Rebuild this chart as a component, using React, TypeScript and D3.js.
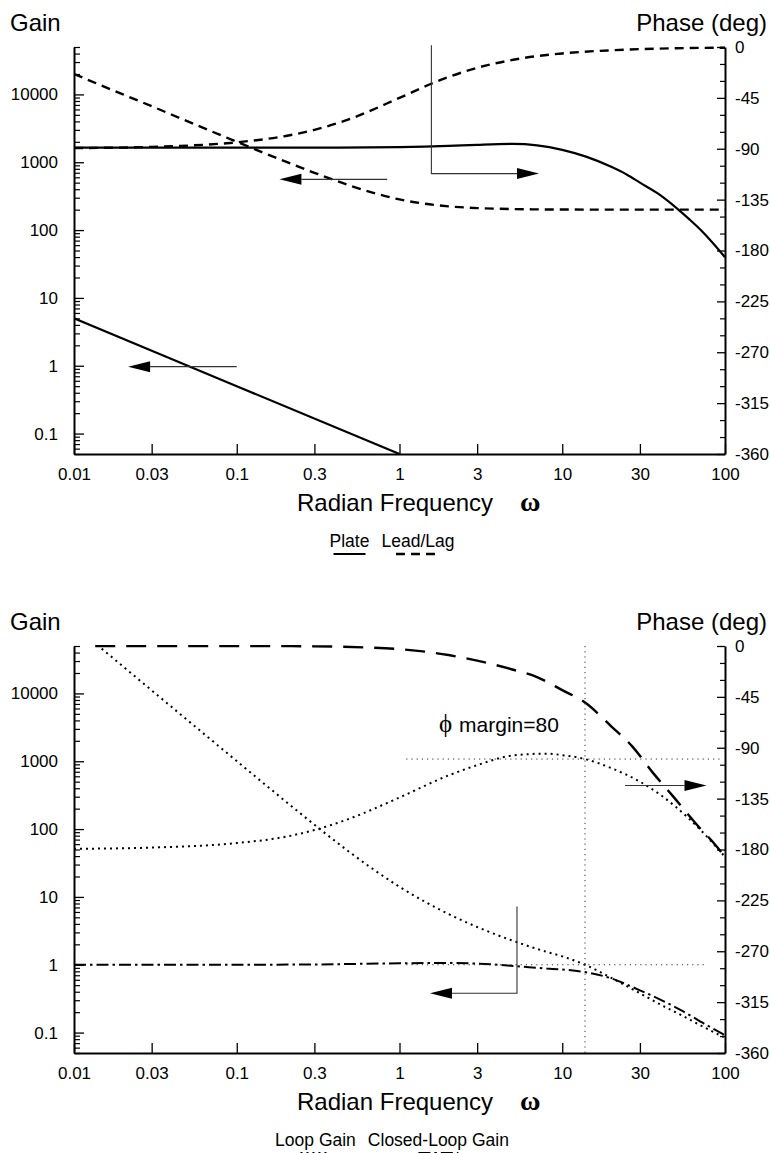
import React, { useEffect, useRef } from 'react'
import * as d3 from 'd3'

type Pt = [number, number]

const freqTicks = [0.01, 0.03, 0.1, 0.3, 1, 3, 10, 30, 100]
const gainTicks = [0.1, 1, 10, 100, 1000, 10000]
const phaseTicks = [0, -45, -90, -135, -180, -225, -270, -315, -360]

// upper plot: plate and lead/lag compensator
const plateGain: Pt[] = [[0.01, 5], [0.1, 0.5], [1, 0.05]]
const platePhase: Pt[] = [[0.01, -89], [0.1, -89], [0.3, -89], [1, -88.5], [2, -87.5], [3, -86.5], [5, -85.7], [7, -87], [10, -91], [14, -97], [20, -106], [25, -113], [30, -120], [40, -131], [50, -142], [60, -152], [70, -161], [85, -174], [100, -186]]
const leadLagGain: Pt[] = [[0.01, 20000], [0.02, 10000], [0.03, 6700], [0.05, 4000], [0.1, 2000], [0.2, 1020], [0.3, 700], [0.5, 450], [1, 283], [2, 224], [3, 211], [5, 204], [10, 201], [30, 200], [100, 200]]
const leadLagPhase: Pt[] = [[0.01, -89.4], [0.03, -88.3], [0.1, -84.3], [0.2, -78.7], [0.3, -73.3], [0.5, -63.4], [1, -45], [1.6, -32], [2, -26.6], [3, -18.4], [5, -11.3], [10, -5.7], [20, -2.9], [50, -1.1], [100, -0.6]]

// lower plot: loop and closed loop
const loopGain: Pt[] = [[0.01, 100000], [0.02, 25000], [0.03, 11100], [0.05, 4000], [0.1, 1005], [0.2, 255], [0.3, 116], [0.5, 44.7], [1, 14.1], [2, 5.6], [3, 3.6], [5, 2.25], [8, 1.55], [10, 1.33], [13.8, 1], [20, 0.64], [30, 0.38], [40, 0.26], [55, 0.176], [77, 0.115], [100, 0.084]]
const loopPhase: Pt[] = [[0.01, -179.4], [0.03, -178.3], [0.1, -174.3], [0.2, -168.7], [0.3, -162.8], [0.5, -152.4], [1, -134], [2, -114.5], [3, -105.4], [5, -96.8], [8, -95.2], [10, -96.5], [13.8, -100], [20, -108], [30, -120], [40, -131.5], [50, -142.5], [70, -162], [100, -186.5]]
const closedGain: Pt[] = [[0.01, 1], [0.1, 1.001], [0.3, 1.01], [1, 1.05], [2, 1.06], [3, 1.04], [5, 0.96], [8, 0.88], [10, 0.85], [13.8, 0.78], [20, 0.63], [30, 0.42], [38.6, 0.32], [55, 0.207], [77, 0.129], [100, 0.092]]
const closedPhase: Pt[] = [[0.0135, 0], [0.1, 0], [0.3, -0.3], [0.6, -1.2], [1, -2.8], [2, -8], [3, -13], [5, -21], [7, -27.5], [10, -39], [13.8, -50], [20, -71], [27, -89], [36, -112], [48, -133], [70, -161], [85, -174], [100, -186.5]]

// annotation arrows (last point is the tip)
const topArrows = [
    { axis: 'phase', path: [[1.57, 1.5], [1.57, -112], [7.2, -112]] as Pt[] },
    { axis: 'gain', path: [[0.84, 560], [0.183, 560]] as Pt[] },
    { axis: 'gain', path: [[0.1, 0.97], [0.0215, 0.97]] as Pt[] },
]
const bottomArrows = [
    { axis: 'phase', path: [[24.3, -123.4], [77, -123.4]] as Pt[] },
    { axis: 'gain', path: [[5.27, 7.2], [5.27, 0.38], [1.54, 0.38]] as Pt[] },
]
const marginLines = [
    { axis: 'phase', path: [[1.1, -100], [97, -100]] as Pt[] },
    { axis: 'gain', path: [[1.1, 1], [78, 1]] as Pt[] },
    { axis: 'gain', path: [[13.8, 50000], [13.8, 0.05]] as Pt[] },
]

const sans = '"Liberation Sans", Arial, Helvetica, sans-serif'
const serif = '"Liberation Serif", "DejaVu Serif", serif'

const plotLeft = 74
const plotRight = 725
const plotHeight = 407

const styles: any = {
    solid: { dash: null, width: 2.2 },
    dashed: { dash: '9,6', width: 2.4 },
    dotted: { dash: '2,4', width: 2 },
    longDash: { dash: '20,11', width: 2.4 },
    dashDot: { dash: '12,4,2.5,4', width: 2 },
}

function drawPanel(svg: any, cfg: any) {
    const g = svg.append('g').attr('transform', 'translate(0,' + cfg.top + ')')
    const x = d3.scaleLog().domain([0.01, 100]).range([plotLeft, plotRight])
    const yGain = d3.scaleLog().domain([0.05, 50000]).range([plotHeight, 0])
    const yPhase = d3.scaleLinear().domain([-360, 0]).range([plotHeight, 0])
    const yOf = (axis: string) => (axis === 'gain' ? yGain : yPhase)

    const clipId = 'clip-' + cfg.id
    g.append('clipPath').attr('id', clipId)
        .append('rect')
        .attr('x', plotLeft).attr('y', -1)
        .attr('width', plotRight - plotLeft).attr('height', plotHeight + 2)

    // curves
    cfg.series.forEach((s: any) => {
        const y = yOf(s.axis)
        const line = d3.line<Pt>()
            .x(d => x(d[0]))
            .y(d => y(d[1]))
            .curve(d3.curveMonotoneX)
        const st = styles[s.style]
        g.append('path')
            .attr('clip-path', 'url(#' + clipId + ')')
            .attr('d', line(s.data))
            .attr('fill', 'none')
            .attr('stroke', '#000')
            .attr('stroke-width', st.width)
            .attr('stroke-dasharray', st.dash)
    })

    // thin dotted reference lines
    ;(cfg.refs || []).forEach((r: any) => {
        const y = yOf(r.axis)
        g.append('path')
            .attr('d', d3.line<Pt>().x(d => x(d[0])).y(d => y(d[1]))(r.path))
            .attr('fill', 'none')
            .attr('stroke', '#333')
            .attr('stroke-width', 1)
            .attr('stroke-dasharray', '1.2,4')
    })

    // arrows
    cfg.arrows.forEach((a: any) => {
        const y = yOf(a.axis)
        const pts = a.path.map((d: Pt) => [x(d[0]), y(d[1])])
        const tip = pts[pts.length - 1]
        const prev = pts[pts.length - 2]
        const len = Math.hypot(tip[0] - prev[0], tip[1] - prev[1])
        const ux = (tip[0] - prev[0]) / len
        const uy = (tip[1] - prev[1]) / len
        const headL = 22, headW = 5.5
        const base = [tip[0] - ux * headL, tip[1] - uy * headL]
        const linePts = pts.slice(0, -1).concat([base])
        g.append('path')
            .attr('d', d3.line()(linePts))
            .attr('fill', 'none')
            .attr('stroke', '#333')
            .attr('stroke-width', 1.1)
        g.append('path')
            .attr('d', d3.line()([
                tip,
                [base[0] - uy * headW, base[1] + ux * headW],
                [base[0] + uy * headW, base[1] - ux * headW],
            ]) + 'Z')
            .attr('fill', '#000')
    })

    // axes
    const gainMinor = yGain.ticks().filter(v => !gainTicks.some(t => Math.abs(t - v) / t < 1e-6))
    const phaseMinor = d3.range(-360, 1, 15).filter(v => v % 45 !== 0)

    const styleAxis = (sel: any) => {
        sel.attr('font-size', 17).attr('font-family', sans)
        sel.select('.domain').attr('stroke-width', 2).attr('stroke', '#000')
        sel.selectAll('.tick line').attr('stroke-width', 1.3).attr('stroke', '#000')
        sel.selectAll('.tick text').attr('fill', '#000')
    }

    g.append('g')
        .attr('transform', 'translate(' + plotLeft + ',0)')
        .call(d3.axisLeft(yGain).tickValues(gainMinor).tickFormat(() => '').tickSizeInner(-6).tickSizeOuter(0))
        .call((s: any) => { s.select('.domain').remove(); s.selectAll('.tick line').attr('stroke-width', 1.2) })
    g.append('g')
        .attr('transform', 'translate(' + plotLeft + ',0)')
        .call(d3.axisLeft(yGain).tickValues(gainTicks).tickFormat((d: any) => String(d)).tickSizeInner(-10).tickSizeOuter(0).tickPadding(16))
        .call(styleAxis)

    g.append('g')
        .attr('transform', 'translate(' + plotRight + ',0)')
        .call(d3.axisRight(yPhase).tickValues(phaseMinor).tickFormat(() => '').tickSizeInner(-5).tickSizeOuter(0))
        .call((s: any) => { s.select('.domain').remove(); s.selectAll('.tick line').attr('stroke-width', 1.2) })
    g.append('g')
        .attr('transform', 'translate(' + plotRight + ',0)')
        .call(d3.axisRight(yPhase).tickValues(phaseTicks).tickFormat((d: any) => String(d)).tickSizeInner(-8).tickSizeOuter(0).tickPadding(10))
        .call(styleAxis)

    g.append('g')
        .attr('transform', 'translate(0,' + plotHeight + ')')
        .call(d3.axisBottom(x).tickValues(freqTicks).tickFormat((d: any) => String(d)).tickSizeInner(-10).tickSizeOuter(0).tickPadding(14))
        .call(styleAxis)

    // titles
    g.append('text')
        .attr('x', 10).attr('y', -16)
        .attr('font-family', sans).attr('font-size', 24)
        .text('Gain')
    g.append('text')
        .attr('x', 767).attr('y', -16)
        .attr('text-anchor', 'end')
        .attr('font-family', sans).attr('font-size', 24)
        .text('Phase (deg)')
    g.append('text')
        .attr('x', 297).attr('y', plotHeight + 57)
        .attr('font-family', sans).attr('font-size', 24)
        .text('Radian Frequency')
    g.append('text')
        .attr('x', 520).attr('y', plotHeight + 57)
        .attr('font-family', serif).attr('font-size', 28).attr('font-weight', 'bold')
        .text('ω')

    // note
    if (cfg.note) {
        const nx = x(cfg.note.at[0])
        const ny = yPhase(cfg.note.at[1])
        g.append('text')
            .attr('x', nx).attr('y', ny)
            .attr('font-family', serif).attr('font-size', 25)
            .text('ϕ')
        g.append('text')
            .attr('x', nx + 20).attr('y', ny)
            .attr('font-family', sans).attr('font-size', 21)
            .text(cfg.note.text)
    }

    // legend
    const lg = g.append('g')
    const baseY = plotHeight + 93
    let cursor = 0
    const items: any[] = []
    cfg.legend.forEach((item: any) => {
        const t = lg.append('text')
            .attr('x', cursor).attr('y', baseY)
            .attr('font-family', sans).attr('font-size', 17.5)
            .text(item.label)
        const w = (t.node() as SVGTextElement).getComputedTextLength()
        items.push({ x: cursor, w, item })
        cursor += w + 12
    })
    items.forEach(it => {
        const cx = it.x + it.w / 2
        const st = styles[it.item.style]
        lg.append('line')
            .attr('x1', cx - it.item.sample / 2).attr('x2', cx + it.item.sample / 2)
            .attr('y1', baseY + 7).attr('y2', baseY + 7)
            .attr('stroke', '#000')
            .attr('stroke-width', st.width)
            .attr('stroke-dasharray', st.dash)
    })
    const total = cursor - 12
    lg.attr('transform', 'translate(' + (392 - total / 2) + ',0)')
}

export default function App() {
    const ref = useRef<SVGSVGElement>(null)
    useEffect(() => {
        const svg = d3.select(ref.current)
        svg.selectAll('*').remove()
        drawPanel(svg, {
            id: 'top',
            top: 47,
            series: [
                { data: plateGain, axis: 'gain', style: 'solid' },
                { data: platePhase, axis: 'phase', style: 'solid' },
                { data: leadLagGain, axis: 'gain', style: 'dashed' },
                { data: leadLagPhase, axis: 'phase', style: 'dashed' },
            ],
            arrows: topArrows,
            legend: [
                { label: 'Plate', style: 'solid', sample: 32 },
                { label: 'Lead/Lag', style: 'dashed', sample: 44 },
            ],
        })
        drawPanel(svg, {
            id: 'bottom',
            top: 646,
            series: [
                { data: loopGain, axis: 'gain', style: 'dotted' },
                { data: loopPhase, axis: 'phase', style: 'dotted' },
                { data: closedGain, axis: 'gain', style: 'dashDot' },
                { data: closedPhase, axis: 'phase', style: 'longDash' },
            ],
            arrows: bottomArrows,
            refs: marginLines,
            note: { at: [1.75, -76], text: 'margin=80' },
            legend: [
                { label: 'Loop Gain', style: 'dotted', sample: 30 },
                { label: 'Closed-Loop Gain', style: 'dashDot', sample: 40 },
            ],
        })
    }, [])

    return (
        <svg ref={ref} width={770} height={1153}
            style={{ position: 'absolute', left: 0, top: 0, background: '#fff' }} />
    )
}
